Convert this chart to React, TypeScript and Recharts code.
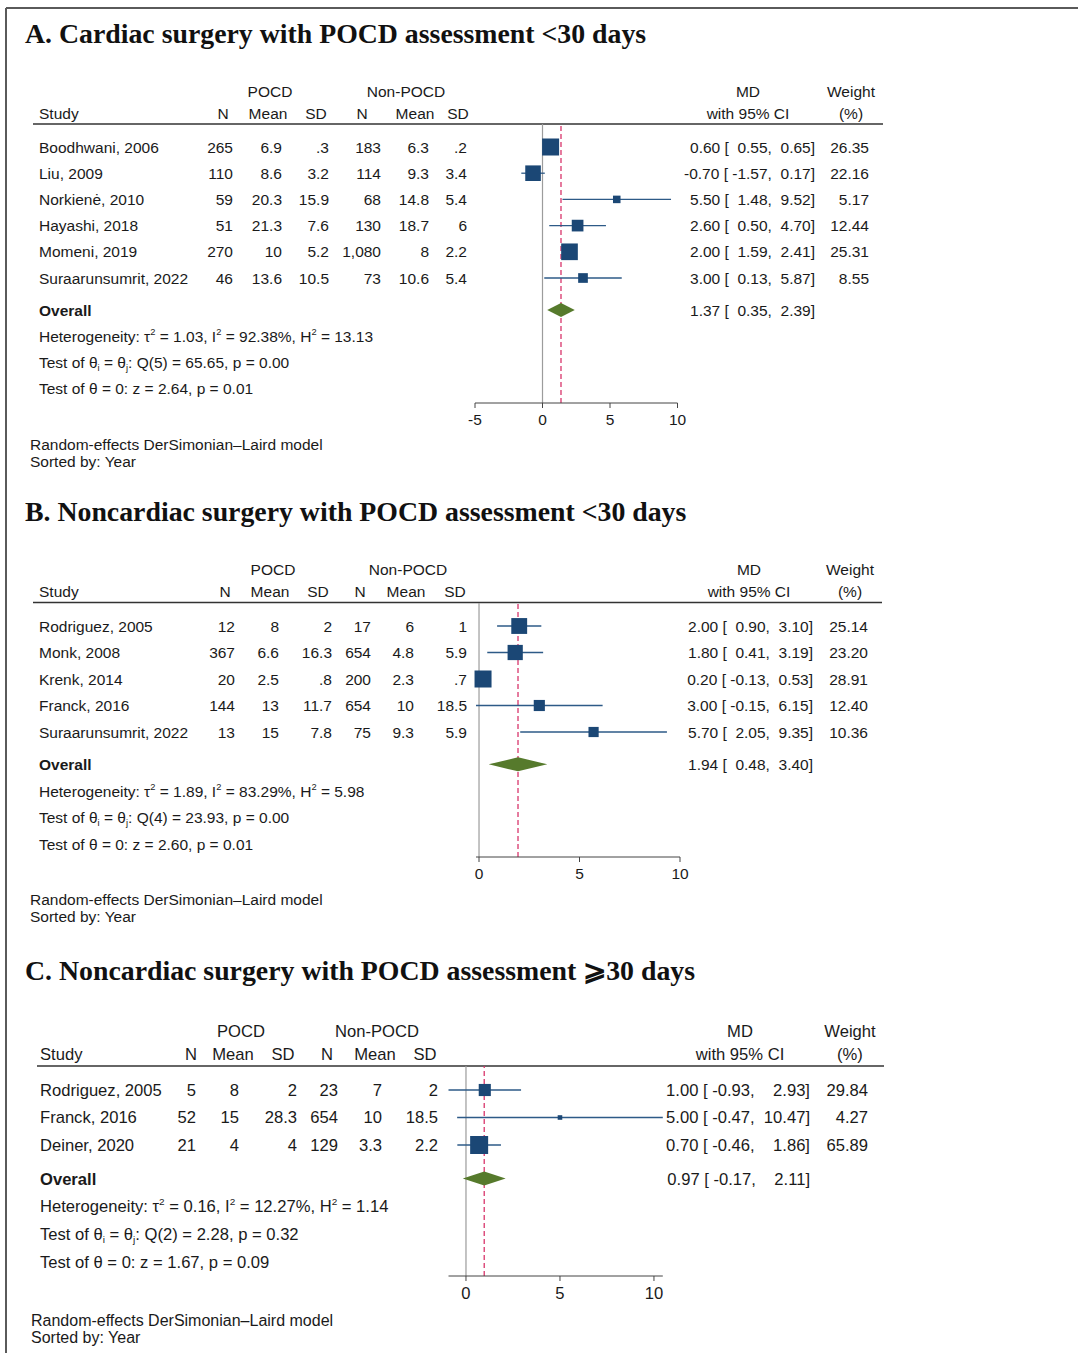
import React from "react";
import { ScatterChart, Scatter, XAxis, YAxis, ErrorBar, ReferenceLine } from "recharts";

const SANS = "'Liberation Sans', Arial, Helvetica, sans-serif";
const SERIF = "'Liberation Serif', 'Times New Roman', Times, serif";
const INK = "#1a1a1a";
const NAVY = "#1b4775";
const CI_BLUE = "#2d5a87";
const GREEN = "#567a2c";
const RED = "#d8356b";
const PAGE_W = 1078;

// ---- A. Cardiac surgery, POCD assessment <30 days ----
const aStudies = ["Boodhwani, 2006", "Liu, 2009", "Norkienė, 2010", "Hayashi, 2018", "Momeni, 2019", "Suraarunsumrit, 2022"];
const aPocdN = ["265", "110", "59", "51", "270", "46"];
const aPocdMean = ["6.9", "8.6", "20.3", "21.3", "10", "13.6"];
const aPocdSD = [".3", "3.2", "15.9", "7.6", "5.2", "10.5"];
const aCtrlN = ["183", "114", "68", "130", "1,080", "73"];
const aCtrlMean = ["6.3", "9.3", "14.8", "18.7", "8", "10.6"];
const aCtrlSD = [".2", "3.4", "5.4", "6", "2.2", "5.4"];
const aMD = [0.6, -0.7, 5.5, 2.6, 2.0, 3.0];
const aLo = [0.55, -1.57, 1.48, 0.5, 1.59, 0.13];
const aHi = [0.65, 0.17, 9.52, 4.7, 2.41, 5.87];
const aWeight = [26.35, 22.16, 5.17, 12.44, 25.31, 8.55];
const aOverall = [1.37, 0.35, 2.39];
const aHet = ["1.03", "92.38%", "13.13"];
const aQ = ["5", "65.65", "0.00"];
const aZ = ["2.64", "0.01"];
const aTicks = [-5, 0, 5, 10];

// ---- B. Noncardiac surgery, POCD assessment <30 days ----
const bStudies = ["Rodriguez, 2005", "Monk, 2008", "Krenk, 2014", "Franck, 2016", "Suraarunsumrit, 2022"];
const bPocdN = ["12", "367", "20", "144", "13"];
const bPocdMean = ["8", "6.6", "2.5", "13", "15"];
const bPocdSD = ["2", "16.3", ".8", "11.7", "7.8"];
const bCtrlN = ["17", "654", "200", "654", "75"];
const bCtrlMean = ["6", "4.8", "2.3", "10", "9.3"];
const bCtrlSD = ["1", "5.9", ".7", "18.5", "5.9"];
const bMD = [2.0, 1.8, 0.2, 3.0, 5.7];
const bLo = [0.9, 0.41, -0.13, -0.15, 2.05];
const bHi = [3.1, 3.19, 0.53, 6.15, 9.35];
const bWeight = [25.14, 23.2, 28.91, 12.4, 10.36];
const bOverall = [1.94, 0.48, 3.4];
const bHet = ["1.89", "83.29%", "5.98"];
const bQ = ["4", "23.93", "0.00"];
const bZ = ["2.60", "0.01"];
const bTicks = [0, 5, 10];

// ---- C. Noncardiac surgery, POCD assessment >=30 days ----
const cStudies = ["Rodriguez, 2005", "Franck, 2016", "Deiner, 2020"];
const cPocdN = ["5", "52", "21"];
const cPocdMean = ["8", "15", "4"];
const cPocdSD = ["2", "28.3", "4"];
const cCtrlN = ["23", "654", "129"];
const cCtrlMean = ["7", "10", "3.3"];
const cCtrlSD = ["2", "18.5", "2.2"];
const cMD = [1.0, 5.0, 0.7];
const cLo = [-0.93, -0.47, -0.46];
const cHi = [2.93, 10.47, 1.86];
const cWeight = [29.84, 4.27, 65.89];
const cOverall = [0.97, -0.17, 2.11];
const cHet = ["0.16", "12.27%", "1.14"];
const cQ = ["2", "2.28", "0.32"];
const cZ = ["1.67", "0.09"];
const cTicks = [0, 5, 10];

const colHeads = ["N", "Mean", "SD", "N", "Mean", "SD"];

// Stata-like padding of the CI text (a digit is about two spaces wide, a minus one)
function ciLabel(md: number, lo: number, hi: number, los: number[], his: number[]) {
  const units = (v: number) => v.toFixed(2).replace("-", "").split(".")[0].length * 2 + (v < 0 ? 1 : 0);
  const maxLo = Math.max(...los.map(units));
  const maxHi = Math.max(...his.map(units));
  const sp = (n: number) => " ".repeat(Math.max(0, n));
  return `${md.toFixed(2)} [ ${sp(maxLo - units(lo))}${lo.toFixed(2)}, ${sp(maxHi - units(hi) + 1)}${hi.toFixed(2)}]`;
}

const panels = [
  {
    title: "A. Cardiac surgery with POCD assessment <30 days",
    studies: aStudies, cols: [aPocdN, aPocdMean, aPocdSD, aCtrlN, aCtrlMean, aCtrlSD],
    md: aMD, lo: aLo, hi: aHi, weight: aWeight, overall: aOverall, het: aHet, q: aQ, z: aZ, ticks: aTicks,
    fs: 15.5, footFs: 15.5, titleY: 43, headY: [96.5, 118.5], ruleY: 124, ruleX: [33, 883],
    chartTop: 60, chartH: 410, plotTop: 124, plotBottom: 403, plotLeft: 475, plotRight: 677.5,
    rowOff: 23, rowH: 26.2, hetGap: 26.3, box: 17,
    studyX: 39, colEnd: [233, 282, 329, 381, 429, 467], colHead: [223, 268, 316, 362, 415, 458], group: [270, 406],
    ciEnd: 815, wEnd: 869, mdC: 748, wC: 851, footX: 30, footY: [450, 466.5],
  },
  {
    title: "B. Noncardiac surgery with POCD assessment <30 days",
    studies: bStudies, cols: [bPocdN, bPocdMean, bPocdSD, bCtrlN, bCtrlMean, bCtrlSD],
    md: bMD, lo: bLo, hi: bHi, weight: bWeight, overall: bOverall, het: bHet, q: bQ, z: bZ, ticks: bTicks,
    fs: 15.5, footFs: 15.5, titleY: 521, headY: [574.5, 596.5], ruleY: 602.5, ruleX: [33, 882],
    chartTop: 540, chartH: 400, plotTop: 603, plotBottom: 857, plotLeft: 476, plotRight: 680,
    rowOff: 23, rowH: 26.5, hetGap: 26.7, box: 17,
    studyX: 39, colEnd: [235, 279, 332, 371, 414, 467], colHead: [225, 270, 318, 360, 406, 455], group: [273, 408],
    ciEnd: 813, wEnd: 868, mdC: 749, wC: 850, footX: 30, footY: [905, 921.5],
  },
  {
    title: "C. Noncardiac surgery with POCD assessment ⩾30 days",
    studies: cStudies, cols: [cPocdN, cPocdMean, cPocdSD, cCtrlN, cCtrlMean, cCtrlSD],
    md: cMD, lo: cLo, hi: cHi, weight: cWeight, overall: cOverall, het: cHet, q: cQ, z: cZ, ticks: cTicks,
    fs: 16.6, footFs: 16, titleY: 980, headY: [1037, 1060], ruleY: 1066, ruleX: [37, 884],
    chartTop: 1000, chartH: 353, plotTop: 1066, plotBottom: 1276, plotLeft: 448.5, plotRight: 662.8,
    rowOff: 24, rowH: 27.5, hetGap: 27.7, box: 18,
    studyX: 40, colEnd: [196, 239, 297, 338, 382, 438], colHead: [191, 233, 283, 327, 375, 425], group: [241, 377],
    ciEnd: 810, wEnd: 868, mdC: 740, wC: 850, footX: 31, footY: [1326, 1343],
  },
];

type P = (typeof panels)[number];
const OVERALL_GAP = 1.22;
const XAXIS_H = 30;
const YAXIS_W = 60;

const Het = ({ p, y }: { p: P; y: number }) => {
  const fs = p.fs;
  const sm = fs * 0.6;
  const up = fs * 0.45;
  const dn = fs * 0.2;
  const base = { x: p.studyX, fontSize: fs, fill: INK, fontFamily: SANS };
  return (
    <g>
      <text {...base} y={y + p.hetGap + fs * 0.36}>
        <tspan>{"Heterogeneity: τ"}</tspan>
        <tspan dy={-up} fontSize={sm}>2</tspan>
        <tspan dy={up}>{` = ${p.het[0]}, I`}</tspan>
        <tspan dy={-up} fontSize={sm}>2</tspan>
        <tspan dy={up}>{` = ${p.het[1]}, H`}</tspan>
        <tspan dy={-up} fontSize={sm}>2</tspan>
        <tspan dy={up}>{` = ${p.het[2]}`}</tspan>
      </text>
      <text {...base} y={y + 2 * p.hetGap + fs * 0.36}>
        <tspan>{"Test of θ"}</tspan>
        <tspan dy={dn} fontSize={sm}>i</tspan>
        <tspan dy={-dn}>{" = θ"}</tspan>
        <tspan dy={dn} fontSize={sm}>j</tspan>
        <tspan dy={-dn}>{`: Q(${p.q[0]}) = ${p.q[1]}, p = ${p.q[2]}`}</tspan>
      </text>
      <text {...base} y={y + 3 * p.hetGap + fs * 0.36}>
        {`Test of θ = 0: z = ${p.z[0]}, p = ${p.z[1]}`}
      </text>
    </g>
  );
};

const RowText = ({ p, y, value }: { p: P; y: number; value: number }) => {
  const n = p.studies.length;
  const fs = p.fs;
  const ty = y + fs * 0.36;
  const los = [...p.lo, p.overall[1]];
  const his = [...p.hi, p.overall[2]];
  const pre = { whiteSpace: "pre" as const };
  if (value > n) {
    return (
      <g>
        <text x={p.studyX} y={ty} fontSize={fs} fontWeight="bold" fill={INK} fontFamily={SANS}>Overall</text>
        <text x={p.ciEnd} y={ty} fontSize={fs} fill={INK} fontFamily={SANS} textAnchor="end" xmlSpace="preserve" style={pre}>
          {ciLabel(p.overall[0], p.overall[1], p.overall[2], los, his)}
        </text>
        <Het p={p} y={y} />
      </g>
    );
  }
  const i = Math.round(value) - 1;
  return (
    <g fontSize={fs} fill={INK} fontFamily={SANS}>
      <text x={p.studyX} y={ty}>{p.studies[i]}</text>
      {p.cols.map((c, k) => (
        <text key={k} x={p.colEnd[k]} y={ty} textAnchor="end">{c[i]}</text>
      ))}
      <text x={p.ciEnd} y={ty} textAnchor="end" xmlSpace="preserve" style={pre}>
        {ciLabel(p.md[i], p.lo[i], p.hi[i], los, his)}
      </text>
      <text x={p.wEnd} y={ty} textAnchor="end">{p.weight[i].toFixed(2)}</text>
    </g>
  );
};

const ForestPanel = ({ p }: { p: P }) => {
  const n = p.studies.length;
  const maxW = Math.max(...p.weight);
  const overallRow = n + OVERALL_GAP;
  const plotH = p.plotBottom - p.plotTop;
  const yDomain = [1 - p.rowOff / p.rowH, 1 + (plotH - p.rowOff) / p.rowH];
  const xDomain = [Math.min(...p.lo, ...p.ticks), Math.max(...p.hi, ...p.ticks)];
  const rows = p.studies.map((s, i) => ({
    row: i + 1,
    md: p.md[i],
    err: [p.md[i] - p.lo[i], p.hi[i] - p.md[i]],
    w: p.weight[i],
  }));
  const [ovMd, ovLo, ovHi] = p.overall;
  const margin = {
    top: p.plotTop - p.chartTop,
    bottom: p.chartTop + p.chartH - p.plotBottom - XAXIS_H,
    left: p.plotLeft - YAXIS_W,
    right: PAGE_W - p.plotRight,
  };

  // box area proportional to the study weight
  const Box = (props: any) => {
    const s = p.box * Math.sqrt(props.payload.w / maxW);
    return <rect x={props.cx - s / 2} y={props.cy - s / 2} width={s} height={s} fill={NAVY} />;
  };

  const Diamond = (props: any) => {
    const { x1, x2, y1 } = props;
    const cx = x1 + ((ovMd - ovLo) / (ovHi - ovLo)) * (x2 - x1);
    const h = 7;
    return <polygon points={`${x1},${y1} ${cx},${y1 - h} ${x2},${y1} ${cx},${y1 + h}`} fill={GREEN} />;
  };

  return (
    <div style={{ position: "absolute", left: 0, top: p.chartTop }}>
      <ScatterChart width={PAGE_W} height={p.chartH} margin={margin}>
        <XAxis
          type="number"
          dataKey="md"
          domain={xDomain}
          ticks={p.ticks}
          interval={0}
          height={XAXIS_H}
          tickSize={5}
          tickMargin={6}
          axisLine={{ stroke: "#444" }}
          tickLine={{ stroke: "#444" }}
          tick={{ fontSize: p.fs, fill: INK, fontFamily: SANS }}
        />
        <YAxis
          type="number"
          dataKey="row"
          reversed
          domain={yDomain}
          ticks={[...rows.map((r) => r.row), overallRow]}
          interval={0}
          width={YAXIS_W}
          axisLine={false}
          tickLine={false}
          tick={(t: any) => <RowText key={t.index} p={p} y={t.y} value={t.payload.value} />}
        />
        <ReferenceLine x={0} stroke="#9c9c9c" strokeWidth={1.2} />
        <ReferenceLine x={ovMd} stroke={RED} strokeWidth={1.3} strokeDasharray="5 3" />
        <ReferenceLine
          segment={[{ x: ovLo, y: overallRow }, { x: ovHi, y: overallRow }]}
          shape={Diamond}
        />
        <Scatter data={rows} shape={Box} isAnimationActive={false}>
          <ErrorBar dataKey="err" direction="x" width={0} stroke={CI_BLUE} strokeWidth={1.3} />
        </Scatter>
      </ScatterChart>
    </div>
  );
};

const PanelFrame = ({ p }: { p: P }) => {
  const fs = p.fs;
  return (
    <g fill={INK}>
      <text x={25} y={p.titleY} fontFamily={SERIF} fontWeight="bold" fontSize={27.8} fill="#111">{p.title}</text>
      <g fontFamily={SANS} fontSize={fs}>
        <text x={p.group[0]} y={p.headY[0]} textAnchor="middle">POCD</text>
        <text x={p.group[1]} y={p.headY[0]} textAnchor="middle">Non-POCD</text>
        <text x={p.mdC} y={p.headY[0]} textAnchor="middle">MD</text>
        <text x={p.wC} y={p.headY[0]} textAnchor="middle">Weight</text>
        <text x={p.studyX} y={p.headY[1]}>Study</text>
        {colHeads.map((h, k) => (
          <text key={k} x={p.colHead[k]} y={p.headY[1]} textAnchor="middle">{h}</text>
        ))}
        <text x={p.mdC} y={p.headY[1]} textAnchor="middle">with 95% CI</text>
        <text x={p.wC} y={p.headY[1]} textAnchor="middle">(%)</text>
      </g>
      <g fontFamily={SANS} fontSize={p.footFs}>
        <text x={p.footX} y={p.footY[0]}>Random-effects DerSimonian–Laird model</text>
        <text x={p.footX} y={p.footY[1]}>Sorted by: Year</text>
      </g>
      <line x1={p.ruleX[0]} x2={p.ruleX[1]} y1={p.ruleY} y2={p.ruleY} stroke="#333" strokeWidth={1.5} />
    </g>
  );
};

export default function App() {
  return (
    <div style={{ position: "absolute", left: 0, top: 0, width: PAGE_W, height: 1353, background: "#fff", overflow: "hidden" }}>
      <svg width={PAGE_W} height={1353} style={{ position: "absolute", left: 0, top: 0 }}>
        <line x1={6} x2={PAGE_W} y1={8} y2={8} stroke="#5a5a5a" strokeWidth={2} />
        <line x1={6} x2={6} y1={8} y2={1353} stroke="#5a5a5a" strokeWidth={2} />
        {panels.map((p, k) => (
          <PanelFrame key={k} p={p} />
        ))}
      </svg>
      {panels.map((p, k) => (
        <ForestPanel key={k} p={p} />
      ))}
    </div>
  );
}
